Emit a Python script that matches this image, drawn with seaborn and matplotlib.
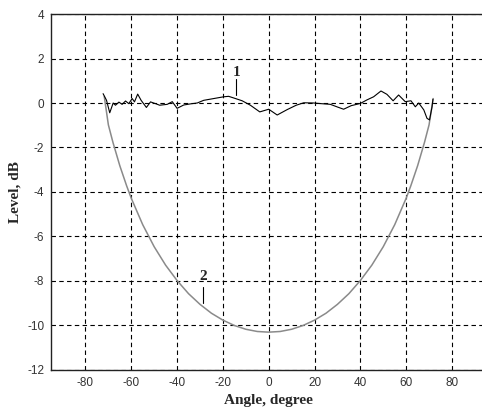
import numpy as np
import pandas as pd
import matplotlib
matplotlib.use("Agg")
import matplotlib.pyplot as plt
import seaborn as sns

# curve 1 - measured level (noisy, near 0 dB)
angle_1 = [-72.3, -70.8, -69.4, -67.9, -66.9, -65.4, -64.0, -62.5, -61.1, -59.6,
           -58.6, -57.2, -55.7, -53.4, -51.6, -49.4, -47.6, -44.3, -42.1, -40.0,
           -37.1, -34.2, -31.2, -28.4, -24.0, -19.6, -17.5, -14.5, -11.6, -8.0,
           -3.9, 0.0, 3.7, 8.0, 12.0, 15.3, 19.6, 23.0, 26.9, 30.0, 32.7, 36.0,
           40.0, 42.9, 45.8, 49.0, 51.6, 54.3, 56.7, 59.6, 62.1, 64.0, 65.5,
           67.7, 69.1, 70.2, 71.3, 71.7]
level_1 = [0.42, 0.12, -0.44, 0.0, -0.1, 0.04, -0.06, 0.09, -0.03, 0.2,
           0.05, 0.4, 0.12, -0.2, 0.05, -0.03, -0.1, -0.06, 0.06, -0.24,
           -0.09, -0.04, 0.0, 0.12, 0.2, 0.28, 0.3, 0.2, 0.1, -0.1,
           -0.4, -0.28, -0.54, -0.3, -0.1, 0.01, 0.0, -0.03, -0.06, -0.18, -0.28, -0.12,
           -0.02, 0.14, 0.28, 0.54, 0.39, 0.1, 0.36, 0.06, 0.1, -0.17, 0.0,
           -0.31, -0.69, -0.76, -0.17, 0.17]

# curve 2 - U shaped level
angle_2 = [-71.8, -70, -68, -65, -62, -60, -55, -50, -45, -40, -35, -30, -25, -20,
           -15, -10, -5, 0, 5, 10, 15, 20, 25, 30, 35, 40, 45, 50, 55, 60, 62,
           65, 68, 70, 71.8]
level_2 = [0.3, -0.98, -1.77, -2.82, -3.73, -4.28, -5.47, -6.46, -7.29, -7.98,
           -8.57, -9.05, -9.45, -9.76, -10.0, -10.17, -10.27, -10.3, -10.27,
           -10.17, -10.0, -9.76, -9.45, -9.05, -8.57, -7.98, -7.29, -6.46,
           -5.47, -4.28, -3.73, -2.82, -1.77, -0.98, 0.2]

x_ticks = [-80, -60, -40, -20, 0, 20, 40, 60, 80]
y_ticks = [-12, -10, -8, -6, -4, -2, 0, 2, 4]

df1 = pd.DataFrame({'angle': angle_1, 'level': level_1})
df2 = pd.DataFrame({'angle': angle_2, 'level': level_2})

sns.set_style("white")
plt.rcParams['font.family'] = ['Liberation Sans', 'DejaVu Sans']
plt.rcParams['axes.unicode_minus'] = False

fig = plt.figure(figsize=(4.82, 4.12), dpi=100)
ax = fig.add_axes([0.106, 0.102, 0.903, 0.864])

sns.lineplot(data=df2, x='angle', y='level', ax=ax, color='#8a8a8a',
             linewidth=1.1, estimator=None, sort=False)
sns.lineplot(data=df1, x='angle', y='level', ax=ax, color='black',
             linewidth=0.8, estimator=None, sort=False)

ax.set_xlim(-95, 95)
ax.set_ylim(-12, 4)
ax.set_xticks(x_ticks)
ax.set_yticks(y_ticks)
ax.grid(True, color='black', linestyle=(0, (4, 3)), linewidth=0.8)
ax.tick_params(axis='both', direction='in', length=3, labelsize=8.5,
               labelcolor='#333333', color='black', pad=5)
for side in ['left', 'bottom', 'top']:
    ax.spines[side].set_color('#222222')
    ax.spines[side].set_linewidth(1.0)
ax.spines['right'].set_visible(False)

ax.set_xlabel('Angle, degree', family='Liberation Serif', fontweight='bold',
              fontsize=11, labelpad=4)
ax.set_ylabel('Level, dB', family='Liberation Serif', fontweight='bold',
              fontsize=11, labelpad=4)

# curve labels
ax.text(-14.1, 1.35, '1', family='Liberation Serif', fontweight='bold',
        fontsize=11, ha='center', va='center')
ax.plot([-14.1, -14.1], [1.1, 0.35], color='black', linewidth=0.8)
ax.text(-28.6, -7.82, '2', family='Liberation Serif', fontweight='bold',
        fontsize=11, ha='center', va='center')
ax.plot([-28.9, -28.9], [-8.26, -8.98], color='black', linewidth=0.8)

fig.savefig('out.png', dpi=100)
